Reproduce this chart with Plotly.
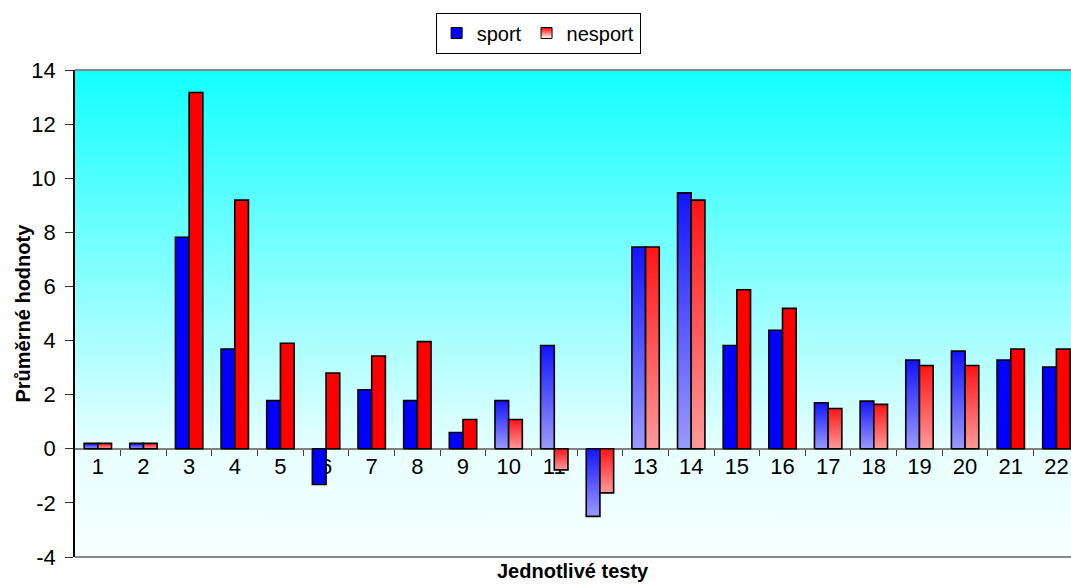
import base64
import plotly.graph_objects as go

# Average values per test for the two groups
tests = [str(i) for i in range(1, 23)]
sport = [0.2, 0.2, 7.82, 3.69, 1.78, -1.32, 2.18, 1.78, 0.6, 1.78, 3.82, -2.5,
         7.46, 9.46, 3.82, 4.38, 1.7, 1.76, 3.28, 3.61, 3.28, 3.02]
nesport = [0.2, 0.2, 13.17, 9.19, 3.9, 2.8, 3.43, 3.96, 1.08, 1.08, -0.78, -1.63,
           7.46, 9.19, 5.88, 5.19, 1.49, 1.64, 3.08, 3.08, 3.69, 3.69]
# Tests whose bars are drawn with a shaded fill
shaded_tests = ["1", "2", "10", "11", "12", "13", "14", "17", "18", "19", "20"]
y_ticks = list(range(-4, 15, 2))

FONT = "Liberation Sans, Arial, sans-serif"
BAR_W = 0.3

series = [
    ("sport", sport, -BAR_W, "#0000ff", "#1414ff", "#9a9aff"),
    ("nesport", nesport, 0.0, "#ff0000", "#ff1414", "#ff9a9a"),
]

fig = go.Figure()

for name, values, offset, solid, dark, light in series:
    for i, (t, v) in enumerate(zip(tests, values)):
        x0 = i + 1 + offset
        x1 = x0 + BAR_W
        trace = dict(
            x=[x0, x0, x1, x1, x0],
            y=[0, v, v, 0, 0],
            mode="lines",
            fill="toself",
            line=dict(color="black", width=1.6),
            hoverinfo="skip",
            showlegend=False,
        )
        if t in shaded_tests:
            trace["fillgradient"] = dict(type="vertical",
                                         colorscale=[[0, light], [1, dark]])
        else:
            trace["fillcolor"] = solid
        fig.add_trace(go.Scatter(**trace))

# Legend entries
fig.add_trace(go.Scatter(
    x=[None], y=[None], mode="markers", name="sport",
    marker=dict(symbol="square", size=11, color="#0000ff",
                line=dict(color="black", width=1)),
))
fig.add_trace(go.Scatter(
    x=[None], y=[None], mode="markers", name="nesport",
    marker=dict(symbol="square", size=11, color="#ff0000",
                gradient=dict(type="vertical", color="#ffffff"),
                line=dict(color="black", width=1)),
))

# Plot-area background: cyan fading to near white
svg = (
    '<svg xmlns="http://www.w3.org/2000/svg" width="100" height="100" '
    'preserveAspectRatio="none">'
    '<defs><linearGradient id="g" x1="0" y1="0" x2="0" y2="1">'
    '<stop offset="0" stop-color="#12ffff"/>'
    '<stop offset="0.78" stop-color="#e8ffff"/>'
    '<stop offset="1" stop-color="#f6ffff"/>'
    '</linearGradient></defs>'
    '<rect width="100" height="100" fill="url(#g)"/></svg>'
)
bg_src = "data:image/svg+xml;base64," + base64.b64encode(svg.encode()).decode()

fig.update_layout(
    width=1071, height=584,
    margin=dict(l=75, r=0, t=70, b=27),
    paper_bgcolor="white",
    plot_bgcolor="rgba(0,0,0,0)",
    font=dict(family=FONT, color="black", size=22),
    showlegend=True,
    legend=dict(
        orientation="h", x=0.465, xanchor="center", y=1.118, yanchor="top",
        bordercolor="black", borderwidth=1, bgcolor="white",
        font=dict(size=20, family=FONT), itemwidth=30,
        tracegroupgap=0,
    ),
    images=[dict(source=bg_src, xref="paper", yref="paper", x=0, y=1,
                 sizex=1, sizey=1, sizing="stretch", layer="below",
                 xanchor="left", yanchor="top")],
    xaxis=dict(
        range=[0.5, 22.32],
        tickmode="array", tickvals=list(range(1, 23)), ticktext=tests,
        ticks="", showgrid=False, zeroline=False,
        showline=True, linecolor="#808080", linewidth=1.5,
        anchor="free", position=4 / 18, layer="below traces",
        tickfont=dict(size=22), ticklabelstandoff=-2,
        minor=dict(tickmode="array",
                   tickvals=[i + 0.5 for i in range(1, 22)],
                   ticks="outside", ticklen=6, tickcolor="#404040",
                   tickwidth=1, showgrid=False),
    ),
    yaxis=dict(
        range=[-4, 14], tickmode="array", tickvals=y_ticks,
        ticktext=[str(v) for v in y_ticks],
        ticks="outside", ticklen=8, tickcolor="#303030", tickwidth=1,
        showline=True, linecolor="black", linewidth=1.5,
        showgrid=False, zeroline=False,
        tickfont=dict(size=22), ticklabelstandoff=5,
    ),
    shapes=[
        dict(type="line", xref="paper", yref="paper", x0=0, x1=1, y0=1, y1=1,
             line=dict(color="#888888", width=2)),
        dict(type="line", xref="paper", yref="paper", x0=0, x1=1, y0=0, y1=0,
             line=dict(color="#888888", width=2)),
    ],
    annotations=[
        dict(text="<b>Jednotlivé testy</b>", xref="paper", yref="paper",
             x=0.5, y=0, yshift=-14, xanchor="center", yanchor="middle",
             borderpad=0, showarrow=False, font=dict(size=20, family=FONT)),
        dict(text="<b>Průměrné hodnoty</b>", xref="paper", yref="paper",
             x=0, y=0.5, xshift=-53, xanchor="center", yanchor="middle",
             textangle=-90, showarrow=False,
             font=dict(size=20, family=FONT)),
    ],
)

fig.write_html("out.html")
